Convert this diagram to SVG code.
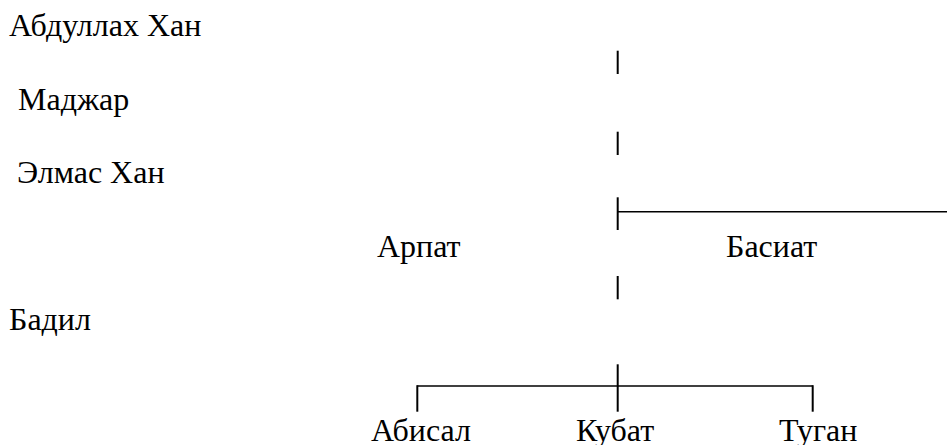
<svg xmlns="http://www.w3.org/2000/svg" width="947" height="445" viewBox="0 0 947 445">
<style>
.t { font-family: "Liberation Serif", "Times New Roman", serif; font-size: 32px; fill: #000; }
.ln { stroke: #000; stroke-width: 2; fill: none; }
.hl { stroke: #000; stroke-width: 1.6; fill: none; }
</style>
<rect width="947" height="445" fill="#fff"/>
<g id="connectors">
<line class="ln" x1="617.7" y1="50.7" x2="617.7" y2="74"/>
<line class="ln" x1="617.7" y1="131.7" x2="617.7" y2="155"/>
<line class="ln" x1="617.7" y1="197.3" x2="617.7" y2="230"/>
<line class="hl" x1="617.7" y1="211.7" x2="947" y2="211.7"/>
<line class="ln" x1="617.7" y1="276" x2="617.7" y2="299.3"/>
<line class="ln" x1="617.7" y1="364.3" x2="617.7" y2="411.7"/>
<line class="hl" x1="417.3" y1="386" x2="812.7" y2="386"/>
<line class="ln" x1="417.3" y1="385.2" x2="417.3" y2="411.7"/>
<line class="ln" x1="812.7" y1="385.2" x2="812.7" y2="411.7"/>
</g>
<g id="nodes">
<g id="abdullah"><text class="t" x="9" y="36">Абдуллах Хан</text></g>
<g id="madzhar"><text class="t" x="18" y="110">Маджар</text></g>
<g id="elmas"><text class="t" x="17" y="183">Элмас Хан</text></g>
<g id="arpat"><text class="t" x="377" y="257">Арпат</text></g>
<g id="basiat"><text class="t" x="726" y="257">Басиат</text></g>
<g id="badil"><text class="t" x="9" y="330">Бадил</text></g>
<g id="abisal"><text class="t" x="371" y="441">Абисал</text></g>
<g id="kubat"><text class="t" x="576" y="441">Кубат</text></g>
<g id="tugan"><text class="t" x="779" y="441">Туган</text></g>
</g>
</svg>
